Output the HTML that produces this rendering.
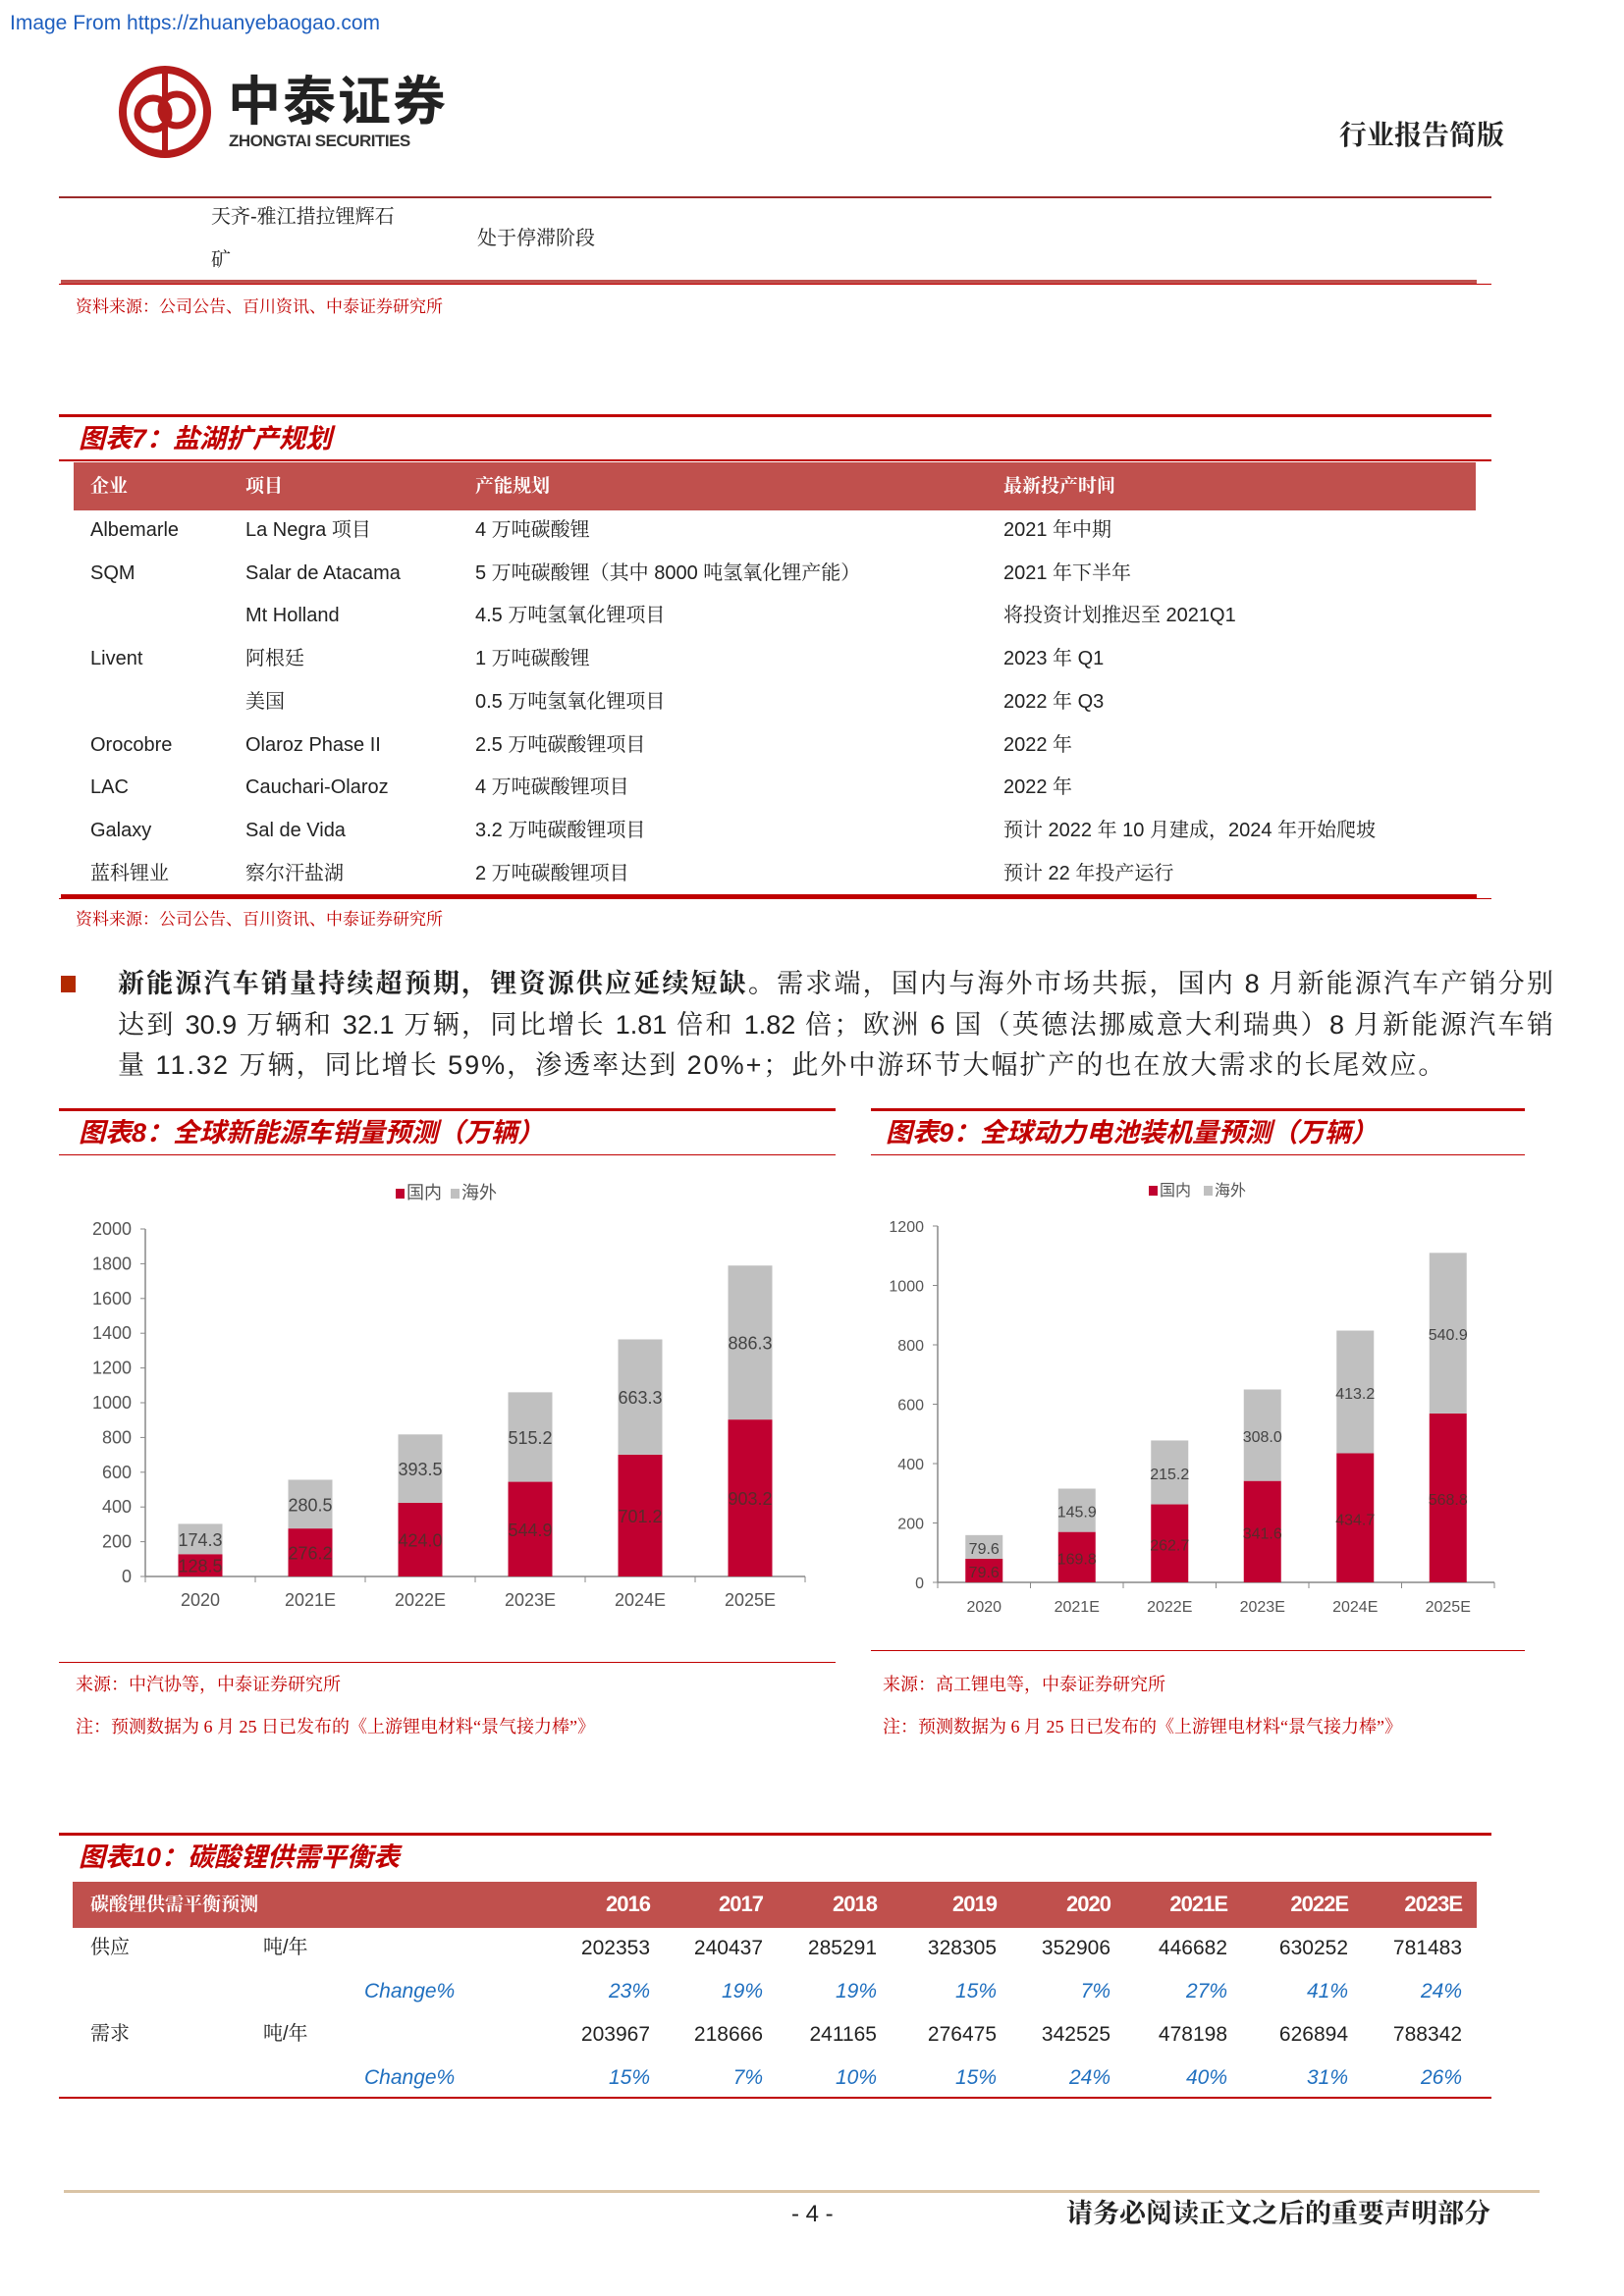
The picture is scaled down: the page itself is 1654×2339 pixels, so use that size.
<!DOCTYPE html>
<html><head><meta charset="utf-8">
<style>
body{margin:0;padding:0;background:#fff;}
#page{position:relative;width:1654px;height:2339px;overflow:hidden;background:#fff;font-family:"Liberation Sans","Noto Serif CJK SC","Noto Sans CJK SC",serif;color:#222;}
.a{position:absolute;white-space:nowrap;line-height:1;}
.hl{position:absolute;background:#c00000;}
.red{color:#c00000;}
.ttl{font-family:"Liberation Sans","Noto Sans CJK SC",sans-serif;font-style:italic;font-weight:bold;color:#c00000;font-size:27px;}
.src{font-size:17px;color:#c00000;font-family:"Liberation Serif","Noto Serif CJK SC",serif;}
.td{font-size:20px;color:#222;}
.th{font-size:19px;color:#fff;font-weight:bold;}
.para{position:absolute;left:120px;width:1462px;font-size:27px;line-height:1;text-align:justify;text-align-last:justify;font-family:"Liberation Sans","Noto Serif CJK SC",serif;}
.num{font-size:21px;color:#222;text-align:right;width:100px;}
.chg{font-size:21px;color:#1f6fbf;font-style:italic;text-align:right;width:100px;}
</style></head>
<body>
<div id="page">
<div class="a" style="left:10px;top:13px;font-size:21px;color:#1f5fbf;font-family:'Liberation Sans',sans-serif;">Image From https://zhuanyebaogao.com</div>

<svg class="a" style="left:118px;top:64px;" width="100" height="100">
<circle cx="50" cy="50" r="43" fill="none" stroke="#b31b1b" stroke-width="8"/>
<circle cx="38" cy="52" r="16" fill="none" stroke="#b31b1b" stroke-width="7"/>
<circle cx="62" cy="48" r="16" fill="none" stroke="#b31b1b" stroke-width="7"/>
<rect x="47" y="10" width="6" height="80" fill="#b31b1b"/>
</svg>
<div class="a" style="left:232px;top:72px;font-size:54px;font-weight:bold;color:#222;font-family:'Noto Sans CJK SC',sans-serif;letter-spacing:2px;">中泰证券</div>
<div class="a" style="left:233px;top:135px;font-size:17px;font-weight:bold;color:#333;font-family:'Liberation Sans',sans-serif;letter-spacing:-0.5px;">ZHONGTAI SECURITIES</div>
<div class="a" style="left:1364px;top:124px;font-size:28px;font-weight:bold;color:#222;">行业报告简版</div>

<div class="hl" style="left:60px;top:200px;width:1459px;height:2px;background:#9b2b2b;"></div>
<div class="a td" style="left:215px;top:211px;">天齐-雅江措拉锂辉石</div>
<div class="a td" style="left:215px;top:255px;">矿</div>
<div class="a td" style="left:486px;top:233px;">处于停滞阶段</div>
<div class="hl" style="left:62px;top:285px;width:1442px;height:4px;background:#c0504d;"></div>
<div class="hl" style="left:60px;top:289px;width:1459px;height:1px;"></div>
<div class="a src" style="left:77px;top:304px;">资料来源：公司公告、百川资讯、中泰证券研究所</div>

<!-- Chart 7 table -->
<div class="hl" style="left:60px;top:422px;width:1459px;height:3px;"></div>
<div class="a ttl" style="left:80px;top:434px;">图表7：盐湖扩产规划</div>
<div class="hl" style="left:60px;top:468px;width:1459px;height:2px;"></div>
<div class="a" style="left:75px;top:471px;width:1428px;height:49px;background:#c0504d;"></div>
<div class="a th" style="left:92px;top:486px;">企业</div>
<div class="a th" style="left:250px;top:486px;">项目</div>
<div class="a th" style="left:484px;top:486px;">产能规划</div>
<div class="a th" style="left:1022px;top:486px;">最新投产时间</div>
<div id="t7"></div>
<div class="hl" style="left:62px;top:911px;width:1442px;height:4px;"></div>
<div class="hl" style="left:60px;top:915px;width:1459px;height:1px;"></div>
<div class="a src" style="left:77px;top:928px;">资料来源：公司公告、百川资讯、中泰证券研究所</div>

<!-- paragraph -->
<div class="a" style="left:62px;top:994px;width:15px;height:17px;background:#b22a00;"></div>
<div class="para" style="top:989px;"><b>新能源汽车销量持续超预期，锂资源供应延续短缺。</b>需求端，国内与海外市场共振，国内 8 月新能源汽车产销分别</div>
<div class="para" style="top:1031px;">达到 30.9 万辆和 32.1 万辆，同比增长 1.81 倍和 1.82 倍；欧洲 6 国（英德法挪威意大利瑞典）8 月新能源汽车销</div>
<div class="para" style="top:1072px;width:auto;text-align-last:auto;letter-spacing:2px;">量 11.32 万辆，同比增长 59%，渗透率达到 20%+；此外中游环节大幅扩产的也在放大需求的长尾效应。</div>

<!-- chart titles -->
<div class="hl" style="left:60px;top:1129px;width:791px;height:3px;"></div>
<div class="a ttl" style="left:80px;top:1141px;">图表8：全球新能源车销量预测（万辆）</div>
<div class="hl" style="left:60px;top:1176px;width:791px;height:1px;"></div>
<div class="hl" style="left:887px;top:1129px;width:666px;height:3px;"></div>
<div class="a ttl" style="left:902px;top:1141px;">图表9：全球动力电池装机量预测（万辆）</div>
<div class="hl" style="left:887px;top:1176px;width:666px;height:1px;"></div>

<svg id="charts" class="a" style="left:0;top:0;" width="1654" height="1700"></svg>

<div class="hl" style="left:60px;top:1693px;width:791px;height:1px;"></div>
<div class="hl" style="left:887px;top:1681px;width:666px;height:1px;"></div>
<div class="a src" style="left:77px;top:1707px;font-size:18px;">来源：中汽协等，中泰证券研究所</div>
<div class="a src" style="left:77px;top:1750px;font-size:18px;">注：预测数据为 6 月 25 日已发布的《上游锂电材料“景气接力棒”》</div>
<div class="a src" style="left:899px;top:1707px;font-size:18px;">来源：高工锂电等，中泰证券研究所</div>
<div class="a src" style="left:899px;top:1750px;font-size:18px;">注：预测数据为 6 月 25 日已发布的《上游锂电材料“景气接力棒”》</div>

<!-- Chart 10 table -->
<div class="hl" style="left:60px;top:1867px;width:1459px;height:3px;"></div>
<div class="a ttl" style="left:80px;top:1879px;">图表10：碳酸锂供需平衡表</div>
<div class="a" style="left:74px;top:1917px;width:1430px;height:47px;background:#c0504d;"></div>
<div class="a th" style="left:92px;top:1931px;">碳酸锂供需平衡预测</div>
<div id="t10"></div>
<div class="hl" style="left:60px;top:2136px;width:1459px;height:2px;"></div>

<div class="hl" style="left:65px;top:2231px;width:1503px;height:3px;background:#d9c3a5;"></div>
<div class="a" style="left:806px;top:2244px;font-size:24px;">- 4 -</div>
<div class="a" style="left:1086px;top:2242px;font-size:27px;font-weight:bold;">请务必阅读正文之后的重要声明部分</div>
</div>

<script>
// Table 7
var t7rows=[["Albemarle","La Negra 项目","4 万吨碳酸锂","2021 年中期"],["SQM","Salar de Atacama","5 万吨碳酸锂（其中 8000 吨氢氧化锂产能）","2021 年下半年"],["","Mt Holland","4.5 万吨氢氧化锂项目","将投资计划推迟至 2021Q1"],["Livent","阿根廷","1 万吨碳酸锂","2023 年 Q1"],["","美国","0.5 万吨氢氧化锂项目","2022 年 Q3"],["Orocobre","Olaroz Phase II","2.5 万吨碳酸锂项目","2022 年"],["LAC","Cauchari-Olaroz","4 万吨碳酸锂项目","2022 年"],["Galaxy","Sal de Vida","3.2 万吨碳酸锂项目","预计 2022 年 10 月建成，2024 年开始爬坡"],["蓝科锂业","察尔汗盐湖","2 万吨碳酸锂项目","预计 22 年投产运行"]];
var t7=document.getElementById('t7');
var cx=[92,250,484,1022];
t7rows.forEach(function(r,i){r.forEach(function(c,j){if(!c)return;var d=document.createElement('div');d.className='a td';d.style.left=cx[j]+'px';d.style.top=(530+i*43.7)+'px';d.textContent=c;


t7.appendChild(d);});});

// Table 10
var years10=["2016","2017","2018","2019","2020","2021E","2022E","2023E"];
var supply10=["202353","240437","285291","328305","352906","446682","630252","781483"];
var supplyChg=["23%","19%","19%","15%","7%","27%","41%","24%"];
var demand10=["203967","218666","241165","276475","342525","478198","626894","788342"];
var demandChg=["15%","7%","10%","15%","24%","40%","31%","26%"];
var t10=document.getElementById('t10');
var xr=[662,777,893,1015,1131,1250,1373,1489];
function cell(txt,cls,right,top,name){var d=document.createElement('div');d.className='a '+cls;d.style.left=(right-100)+'px';d.style.top=top+'px';d.textContent=txt;


t10.appendChild(d);}
years10.forEach(function(y,i){cell(y,'th',0,0,'');var e=t10.lastChild;e.style.left=(xr[i]-100)+'px';e.style.top='1929px';e.style.width='100px';e.style.textAlign='right';e.style.fontSize='22px';e.style.fontFamily='"Liberation Sans",sans-serif';e.style.letterSpacing='-1px';
});
[[supply10,1974,'num','supply-value'],[supplyChg,2018,'chg','supply-change'],[demand10,2062,'num','demand-value'],[demandChg,2106,'chg','demand-change']].forEach(function(row){row[0].forEach(function(v,i){cell(v,row[2],0,row[1],row[3]);t10.lastChild.style.left=(xr[i]-100)+'px';});});
[["供应",92,1974],["吨/年",268,1974],["需求",92,2062],["吨/年",268,2062]].forEach(function(r){var d=document.createElement('div');d.className='a td';d.style.left=r[1]+'px';d.style.top=r[2]+'px';d.textContent=r[0];


t10.appendChild(d);});
[2018,2106].forEach(function(t){var d=document.createElement('div');d.className='a chg';d.style.left='371px';d.style.top=t+'px';d.style.textAlign='left';d.textContent='Change%';


t10.appendChild(d);});

// Charts
var categories=["2020","2021E","2022E","2023E","2024E","2025E"];
var ev_domestic=[128.5,276.2,424.0,544.9,701.2,903.2];
var ev_overseas=[174.3,280.5,393.5,515.2,663.3,886.3];
var ev_ticks=[0,200,400,600,800,1000,1200,1400,1600,1800,2000];
var bat_domestic=[79.6,169.8,262.7,341.6,434.7,568.8];
var bat_overseas=[79.6,145.9,215.2,308.0,413.2,540.9];
var bat_ticks=[0,200,400,600,800,1000,1200];

var NS='http://www.w3.org/2000/svg';
var svg=document.getElementById('charts');
function mk(tag,attrs,name){var e=document.createElementNS(NS,tag);for(var k in attrs)e.setAttribute(k,attrs[k]);


svg.appendChild(e);return e;}
function chart(cfg){
  var max=cfg.ticks[cfg.ticks.length-1];
  function y(v){return cfg.y0-(v/max)*(cfg.y0-cfg.yTop);}
  var n=categories.length, step=(cfg.xR-cfg.xL)/n;
  function xc(i){return cfg.xL+step*(i+0.5);}
  mk('line',{x1:cfg.xL,y1:cfg.yTop,x2:cfg.xL,y2:cfg.y0,stroke:'#888','stroke-width':1.5},'y-axis');
  mk('line',{x1:cfg.xL,y1:cfg.y0,x2:cfg.xR,y2:cfg.y0,stroke:'#888','stroke-width':1.5},'x-axis');
  cfg.ticks.forEach(function(t){var yy=y(t);mk('line',{x1:cfg.xL-5,y1:yy,x2:cfg.xL,y2:yy,stroke:'#888'},'y-tick');
    var tx=mk('text',{x:cfg.xL-14,y:yy+6,'text-anchor':'end','font-size':cfg.fs,fill:'#555','font-family':'Liberation Sans, sans-serif'},'y-tick-label');tx.textContent=t;});
  for(var i=0;i<=n;i++){mk('line',{x1:cfg.xL+step*i,y1:cfg.y0,x2:cfg.xL+step*i,y2:cfg.y0+6,stroke:'#888'},'x-tick');}
  categories.forEach(function(c,i){
    var d=cfg.dom[i],o=cfg.ovs[i],cx=xc(i),w=cfg.bw;
    mk('rect',{x:cx-w/2,y:y(d),width:w,height:cfg.y0-y(d),fill:'#c00030'},'bar-domestic-'+c);
    mk('rect',{x:cx-w/2,y:y(d+o),width:w,height:y(d)-y(d+o),fill:'#c0c0c0'},'bar-overseas-'+c);
    var t1=mk('text',{x:cx,y:(y(d)+cfg.y0)/2+7,'text-anchor':'middle','font-size':cfg.fs,fill:'#5a2a2a','font-family':'Liberation Sans, sans-serif'},'value-label-domestic');t1.textContent=d.toFixed(1);
    var t2=mk('text',{x:cx,y:(y(d)+y(d+o))/2+7,'text-anchor':'middle','font-size':cfg.fs,fill:'#444','font-family':'Liberation Sans, sans-serif'},'value-label-overseas');t2.textContent=o.toFixed(1);
    var t3=mk('text',{x:cx,y:cfg.y0+30,'text-anchor':'middle','font-size':cfg.fs,fill:'#555','font-family':'Liberation Sans, sans-serif'},'x-tick-label');t3.textContent=c;
  });
  mk('rect',{x:cfg.lx,y:cfg.ly-10,width:9,height:10,fill:'#c00030'},'legend-swatch-domestic');
  var l1=mk('text',{x:cfg.lx+11,y:cfg.ly,'font-size':cfg.fs,fill:'#555','font-family':'Noto Sans CJK SC, sans-serif'},'legend-entry-domestic');l1.textContent='国内';
  mk('rect',{x:cfg.lx+56,y:cfg.ly-10,width:9,height:10,fill:'#c0c0c0'},'legend-swatch-overseas');
  var l2=mk('text',{x:cfg.lx+67,y:cfg.ly,'font-size':cfg.fs,fill:'#555','font-family':'Noto Sans CJK SC, sans-serif'},'legend-entry-overseas');l2.textContent='海外';
}
chart({dom:ev_domestic,ovs:ev_overseas,ticks:ev_ticks,xL:148,xR:820,y0:1606,yTop:1252,bw:45,fs:18,lx:403,ly:1221});
chart({dom:bat_domestic,ovs:bat_overseas,ticks:bat_ticks,xL:955,xR:1522,y0:1612,yTop:1249,bw:38,fs:16,lx:1170,ly:1218});
</script>
</body></html>
